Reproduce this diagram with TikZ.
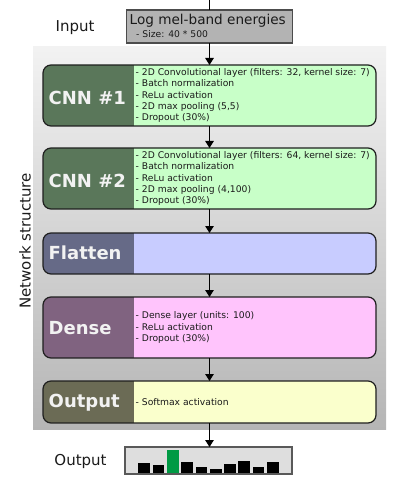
\documentclass[tikz,border=0pt]{standalone}
\usepackage{fontspec}
\setmainfont{DejaVu Sans}
\usetikzlibrary{arrows.meta}
\definecolor{cnnlight}{HTML}{C8FFC8}
\definecolor{cnndark}{HTML}{5A775A}
\definecolor{flatlight}{HTML}{C8CCFF}
\definecolor{flatdark}{HTML}{666A87}
\definecolor{denselight}{HTML}{FFC4FC}
\definecolor{densedark}{HTML}{806380}
\definecolor{outlight}{HTML}{FAFFCC}
\definecolor{outdark}{HTML}{6B6B55}
\definecolor{inputgray}{HTML}{B3B3B3}
\definecolor{chartgray}{HTML}{DEDEDE}
\definecolor{bargreen}{HTML}{009A44}
\definecolor{txt}{HTML}{1A1A1A}
\begin{document}
\begin{tikzpicture}[x=1pt,y=-1pt,
  layer/.style 2 args={draw=black!88, line width=1.2pt, rounded corners=8pt,
    minimum width=333pt, inner sep=0pt, outer sep=0pt, fill=#1,
    path picture={\fill[#2, sharp corners] (path picture bounding box.south west) rectangle ([xshift=91pt]path picture bounding box.north west);}},
  lbl/.style={anchor=base west, inner sep=0pt, text=white!95!black, font=\fontsize{18}{22}\selectfont\bfseries},
  bul/.style={anchor=west, inner sep=0pt, align=left, text=txt, font=\fontsize{9.2}{11.2}\selectfont},
  side/.style={inner sep=0pt, text=txt, font=\fontsize{15}{18}\selectfont},
  conn/.style={draw=black, line width=1.2pt, -{Triangle[width=8.5pt,length=7pt]}},
  bar/.style={fill=black}
]
\useasboundingbox (0,0) rectangle (406,489);
% background panel
\shade[top color=black!5, bottom color=black!29] (33,47) rectangle (386,429);

% input
\node[draw=black!70, line width=1.2pt, fill=inputgray, minimum width=166pt, minimum height=33pt, inner sep=0pt, outer sep=0pt] (in) at (209.5,26.5) {};
\node[anchor=base west, inner sep=0pt, text=txt, font=\fontsize{13.6}{16}\selectfont] (intitle) at (129.5,25) {Log mel-band energies};
\node[anchor=base west, inner sep=0pt, text=txt, font=\fontsize{9.2}{11}\selectfont] (insize) at (136,37.5) {- Size: 40 * 500};
\node[side, anchor=base] (inputlbl) at (75,31.5) {Input};
\coordinate (feed) at (209.5,0);

% layers
\node[layer={cnnlight}{cnndark}, minimum height=61pt] (c1) at (209.5,95.5) {};
\node[layer={cnnlight}{cnndark}, minimum height=61pt] (c2) at (209.5,178.5) {};
\node[layer={flatlight}{flatdark}, minimum height=41pt] (fl) at (209.5,253.5) {};
\node[layer={denselight}{densedark}, minimum height=61pt] (de) at (209.5,327.5) {};
\node[layer={outlight}{outdark}, minimum height=42pt] (ou) at (209.5,402) {};

\node[lbl] (l1) at (48.5,104.5) {CNN \#1};
\node[lbl] (l2) at (48.5,187.5) {CNN \#2};
\node[lbl] (l3) at (48.5,259.5) {Flatten};
\node[lbl] (l4) at (48.5,334.5) {Dense};
\node[lbl] (l5) at (48.5,407) {Output};

\node[bul] (b1) at (135.5,95.5) {- 2D Convolutional layer (filters: 32, kernel size: 7)\\- Batch normalization\\- ReLu activation\\- 2D max pooling (5,5)\\- Dropout (30\%)};
\node[bul] (b2) at (135.5,178.5) {- 2D Convolutional layer (filters: 64, kernel size: 7)\\- Batch normalization\\- ReLu activation\\- 2D max pooling (4,100)\\- Dropout (30\%)};
\node[bul] (b4) at (135.5,327.5) {- Dense layer (units: 100)\\- ReLu activation\\- Dropout (30\%)};
\node[bul] (b5) at (135.5,402) {- Softmax activation};

\node[side, rotate=90] (netlbl) at (25,241) {Network structure};

% output chart
\node[draw=black!65, line width=1.2pt, fill=chartgray, minimum width=167pt, minimum height=27pt, inner sep=0pt, outer sep=0pt] (chart) at (208.5,460.5) {};
\node[side, anchor=base] (outputlbl) at (80.5,465.5) {Output};
\foreach \i/\h in {0/463.3,1/465,3/461.7,4/467,5/469.3,6/464.3,7/460.7,8/467,9/461.7}{
  \fill[black] (138.3+\i*14.3,472.7) rectangle (150+\i*14.3,\h);
}
\fill[bargreen] (138.3+2*14.3,472.7) rectangle (150+2*14.3,450);

% connectors
\draw[line width=1.2pt] (feed) -- (in.north);
\draw[conn] (in.south) -- (c1.north);
\draw[conn] (c1.south) -- (c2.north);
\draw[conn] (c2.south) -- (fl.north);
\draw[conn] (fl.south) -- (de.north);
\draw[conn] (de.south) -- (ou.north);
\draw[conn] (ou.south) -- (ou.south |- chart.north);
\end{tikzpicture}
\end{document}
